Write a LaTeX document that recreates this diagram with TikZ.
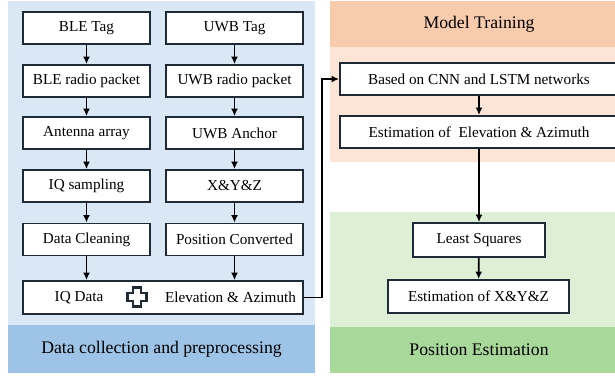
\documentclass[tikz,border=0pt]{standalone}
\usepackage{fontspec}
\setmainfont{Liberation Serif}
\usetikzlibrary{arrows.meta}
\definecolor{lblue}{HTML}{DAE8F5}
\definecolor{dblue}{HTML}{9DC3E6}
\definecolor{lorange}{HTML}{FCE4D6}
\definecolor{dorange}{HTML}{F8CBAD}
\definecolor{lgreen}{HTML}{DDF0D6}
\definecolor{dgreen}{HTML}{A9D99A}
\definecolor{boxc}{HTML}{1E2A35}
\tikzset{
  box/.style={draw=boxc, line width=1.9pt, fill=white, minimum height=32pt, inner sep=0pt,
    align=center, font=\fontsize{15.2}{18}\selectfont},
  lbox/.style={box, minimum width=127pt},
  rbox/.style={box, minimum width=137pt},
  label/.style={inner sep=0pt, font=\fontsize{15.2}{18}\selectfont},
  head/.style={inner sep=0pt, font=\fontsize{17.7}{21}\selectfont},
  arr/.style={line width=1.7pt, -{Latex[length=7.5pt,width=7pt]}},
  line/.style={line width=1.7pt}
}
\begin{document}
\begin{tikzpicture}[x=1pt,y=-1pt]
\useasboundingbox (0,0) rectangle (615,379);
\begin{scope}
\clip (0,0) rectangle (615,379);
% panels
\fill[lblue] (8,1) rectangle (315,325);
\fill[dblue] (8,325) rectangle (315,373);
\fill[dorange] (330,1) rectangle (630,47);
\fill[lorange] (330,47) rectangle (630,162);
\fill[lgreen] (330,212) rectangle (630,327);
\fill[dgreen] (330,327) rectangle (630,373);
% headers
\node[head] (hdc) at (161.5,349) {Data collection and preprocessing};
\node[head] (hmt) at (479,24) {Model Training};
\node[head] (hpe) at (479,350) {Position Estimation};
% left column
\node[lbox] (ble) at (86.5,28) {BLE Tag};
\node[lbox] (blep) at (86.5,81) {BLE radio packet};
\node[lbox] (ant) at (86.5,133) {Antenna array};
\node[lbox] (iqs) at (86.5,186) {IQ sampling};
\node[lbox] (dc) at (86.5,239.5) {Data Cleaning};
% right column
\node[rbox] (uwb) at (234.5,28) {UWB Tag};
\node[rbox] (uwbp) at (234.5,81) {UWB radio packet};
\node[rbox] (anc) at (234.5,133) {UWB Anchor};
\node[rbox] (xyz) at (234.5,186) {X\&Y\&Z};
\node[rbox] (pc) at (234.5,239.5) {Position Converted};
% bottom box
\node[box, minimum width=280pt, minimum height=33pt] (bot) at (163,297.5) {};
\node[label] (iq) at (79,297.5) {IQ Data};
\node[label] (ea) at (230.5,297.5) {Elevation \& Azimuth};
\coordinate (plus) at (137,297);
\draw[boxc, line width=2.6pt, line join=miter]
  ([shift={(-4,-9.5)}]plus) -- ++(8,0) -- ++(0,5.5) -- ++(5.5,0) -- ++(0,8)
  -- ++(-5.5,0) -- ++(0,5.5) -- ++(-8,0) -- ++(0,-5.5) -- ++(-5.5,0) -- ++(0,-8)
  -- ++(5.5,0) -- cycle;
% right side boxes
\node[box, minimum width=278pt] (cnn) at (479,79) {Based on CNN and LSTM networks};
\node[box, minimum width=278pt] (eea) at (479,132) {Estimation of~ Elevation \& Azimuth};
\node[box, minimum width=132pt, minimum height=34pt] (ls) at (479,240) {Least Squares};
\node[box, minimum width=181pt, minimum height=33pt] (exyz) at (478.5,296.5) {Estimation of X\&Y\&Z};
% arrows
\draw[arr] (ble) -- (blep);
\draw[arr] (blep) -- (ant);
\draw[arr] (ant) -- (iqs);
\draw[arr] (iqs) -- (dc);
\draw[arr] (dc.south) -- (dc.south |- bot.north);
\draw[arr] (uwb) -- (uwbp);
\draw[arr] (uwbp) -- (anc);
\draw[arr] (anc) -- (xyz);
\draw[arr] (xyz) -- (pc);
\draw[arr] (pc.south) -- (pc.south |- bot.north);
\coordinate (bend) at (322,297.5);
\draw[arr] (bot.east) -- (bend) |- (cnn.west);
\draw[arr] (cnn) -- (eea);
\draw[arr] (eea) -- (ls);
\draw[arr] (ls) -- (exyz);
\end{scope}
\end{tikzpicture}
\end{document}
